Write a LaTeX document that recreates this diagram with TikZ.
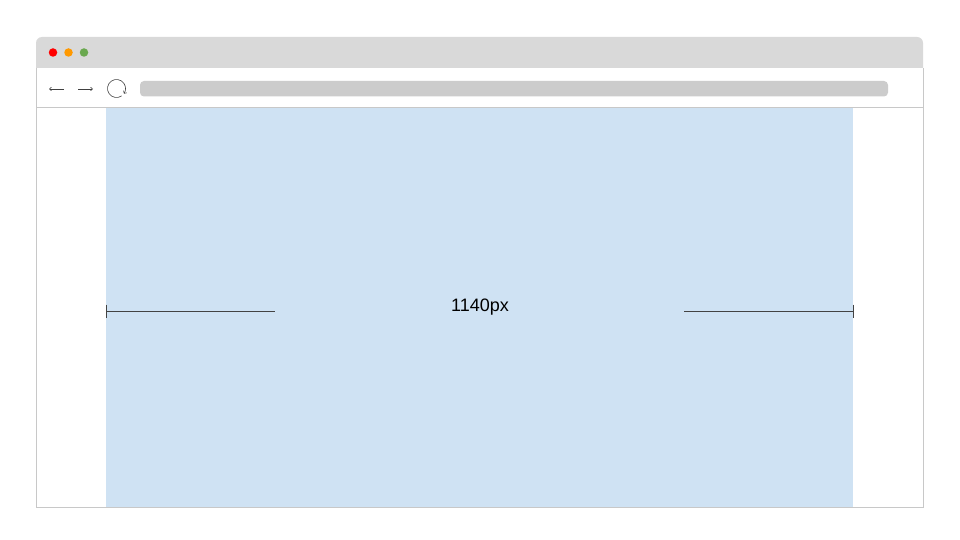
\documentclass[tikz,border=0pt]{standalone}
\usepackage{fontspec}
\setmainfont{Liberation Sans}
\usetikzlibrary{arrows.meta}
\definecolor{barGray}{HTML}{D9D9D9}
\definecolor{addrGray}{HTML}{CCCCCC}
\definecolor{frameGray}{HTML}{C8C8C8}
\definecolor{pageBlue}{HTML}{CFE2F3}
\definecolor{dimLine}{HTML}{434343}
\definecolor{dotRed}{HTML}{FF0000}
\definecolor{dotOrange}{HTML}{FF9900}
\definecolor{dotGreen}{HTML}{6AA84F}
\tikzset{
  dimstroke/.style={draw=dimLine, line width=0.7pt},
  iconstroke/.style={draw=black!75, line width=0.6pt},
  dot/.style={circle, inner sep=0pt, minimum size=8.5pt},
}
\begin{document}
\begin{tikzpicture}[x=1pt, y=-1pt]
\useasboundingbox (0,0) rectangle (960,540);
\fill[white] (0,0) rectangle (960,540);
% title bar
\fill[barGray, rounded corners=6pt] (36,37) rectangle (923,75);
\fill[white] (36,68) rectangle (923,108);
% page content
\fill[pageBlue] (106,107) rectangle (853,507);
% frame
\draw[frameGray, line width=0.8pt] (36,68) -- (36,507) -- (923,507) -- (923,68);
\draw[frameGray, line width=0.8pt] (36,107.5) -- (923,107.5);
% dots
\node[dot, fill=dotRed] (d1) at (53,52.5) {};
\node[dot, fill=dotOrange] (d2) at (68.5,52.5) {};
\node[dot, fill=dotGreen] (d3) at (84,52.5) {};
% address bar
\fill[addrGray, rounded corners=4pt] (140,81) rectangle (888,96.5);
% nav arrows
\coordinate (la1) at (64,89);
\coordinate (la2) at (49,89);
\coordinate (ra1) at (78,89);
\coordinate (ra2) at (93,89);
\draw[iconstroke, -{Straight Barb[length=2pt,width=3.5pt]}] (la1) -- (la2);
\draw[iconstroke, -{Straight Barb[length=2pt,width=3.5pt]}] (ra1) -- (ra2);
% reload icon
\coordinate (rc) at (116.5,88.5);
\draw[iconstroke, -{Straight Barb[length=2pt,width=4pt]}] ([shift={(55:9)}]rc) arc[start angle=55, end angle=395, radius=9];
% dimension line
\coordinate (dl) at (106,311);
\coordinate (dlm) at (275,311);
\coordinate (drm) at (684,311);
\coordinate (dr) at (853,311);
\draw[dimstroke] (dl) -- (dlm);
\draw[dimstroke] (drm) -- (dr);
\draw[dimstroke] (106,304.5) -- (106,317.5);
\draw[dimstroke] (853,304.5) -- (853,317.5);
\node[font=\fontsize{18}{20}\selectfont, text=black] (lbl) at (480,307.5) {1140px};
\end{tikzpicture}
\end{document}
